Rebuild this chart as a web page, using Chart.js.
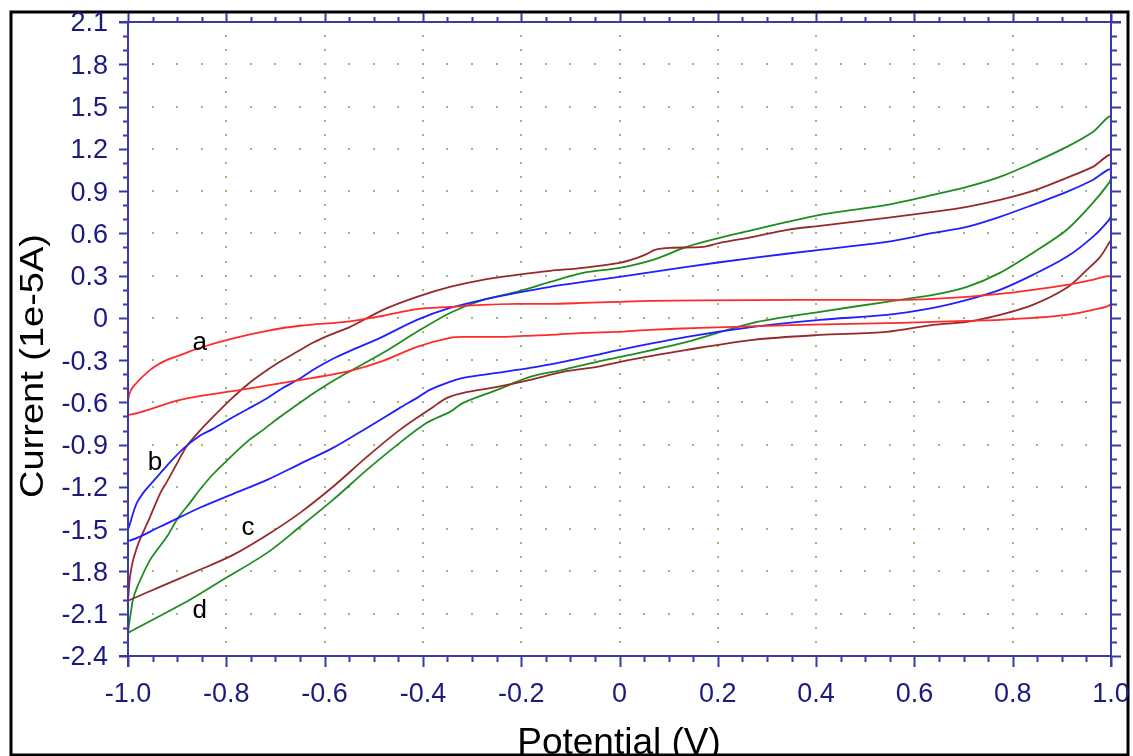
<!DOCTYPE html>
<html><head><meta charset="utf-8">
<script src="https://cdn.jsdelivr.net/npm/chart.js@4.4.1/dist/chart.umd.min.js"></script>
<style>html,body{margin:0;padding:0;background:#fff;}canvas{display:block;}</style>
</head><body>
<canvas id="c" width="1133" height="756"></canvas>
<script>
// ---- data (Potential in V, Current in 1e-5 A) ----
const aPot = [-1.000,-0.998,-0.990,-0.955,-0.921,-0.894,-0.854,-0.786,-0.717,-0.650,-0.548,-0.481,-0.412,-0.345,-0.278,-0.209,-0.141,-0.074,-0.005,0.062,0.164,0.367,0.571,0.638,0.707,0.774,0.841,0.910,0.963,1.000,
  1.000,0.963,0.910,0.841,0.774,0.707,0.638,0.571,0.367,0.164,0.062,-0.005,-0.074,-0.141,-0.196,-0.243,-0.310,-0.345,-0.412,-0.481,-0.548,-0.624,-0.758,-0.894,-1.000,-1.000];
const aCur = [-0.603,-0.550,-0.490,-0.369,-0.298,-0.265,-0.212,-0.145,-0.092,-0.056,-0.025,0.015,0.062,0.078,0.092,0.099,0.099,0.106,0.114,0.121,0.124,0.128,0.128,0.135,0.149,0.170,0.199,0.234,0.270,0.291,
  0.100,0.057,0.021,0.000,-0.014,-0.021,-0.028,-0.035,-0.050,-0.071,-0.085,-0.099,-0.106,-0.121,-0.128,-0.135,-0.135,-0.142,-0.206,-0.305,-0.376,-0.426,-0.504,-0.582,-0.688,-0.603];

const bPot = [-1.000,-0.996,-0.990,-0.982,-0.969,-0.955,-0.921,-0.888,-0.854,-0.827,-0.786,-0.758,-0.717,-0.691,-0.650,-0.624,-0.583,-0.548,-0.487,-0.412,-0.345,-0.278,-0.209,-0.141,-0.074,0.000,0.137,0.272,0.408,0.544,0.638,0.707,0.774,0.841,0.910,0.963,1.000,
  1.000,0.996,0.963,0.910,0.841,0.774,0.707,0.638,0.544,0.408,0.272,0.137,0.000,-0.046,-0.115,-0.182,-0.249,-0.318,-0.351,-0.386,-0.412,-0.447,-0.514,-0.583,-0.650,-0.717,-0.786,-0.854,-0.935,-1.000,-1.000];
const bCur = [-1.505,-1.462,-1.391,-1.313,-1.242,-1.185,-1.050,-0.930,-0.837,-0.788,-0.703,-0.650,-0.570,-0.510,-0.430,-0.370,-0.290,-0.234,-0.142,-0.014,0.071,0.128,0.177,0.220,0.255,0.291,0.362,0.426,0.483,0.539,0.603,0.646,0.717,0.802,0.894,0.979,1.050,
  0.731,0.696,0.575,0.433,0.305,0.199,0.128,0.071,0.021,-0.014,-0.064,-0.135,-0.227,-0.263,-0.312,-0.355,-0.390,-0.426,-0.461,-0.511,-0.568,-0.639,-0.781,-0.923,-1.036,-1.150,-1.249,-1.348,-1.483,-1.583,-1.505];

const cPot = [-1.000,-0.998,-0.996,-0.990,-0.982,-0.976,-0.955,-0.935,-0.921,-0.904,-0.880,-0.854,-0.827,-0.792,-0.758,-0.725,-0.691,-0.656,-0.624,-0.589,-0.548,-0.481,-0.412,-0.345,-0.278,-0.209,-0.141,-0.074,0.000,0.036,0.056,0.072,0.103,0.170,0.204,0.272,0.341,0.408,0.475,0.544,0.638,0.707,0.774,0.841,0.910,0.963,1.000,
  1.000,0.996,0.978,0.951,0.910,0.841,0.774,0.707,0.638,0.544,0.408,0.272,0.137,0.021,-0.046,-0.115,-0.182,-0.249,-0.318,-0.351,-0.379,-0.447,-0.514,-0.583,-0.650,-0.717,-0.786,-0.854,-0.935,-1.000];
const cCur = [-2.008,-1.916,-1.838,-1.725,-1.632,-1.576,-1.412,-1.249,-1.164,-1.057,-0.908,-0.802,-0.703,-0.582,-0.476,-0.390,-0.312,-0.241,-0.177,-0.121,-0.064,0.057,0.149,0.220,0.270,0.305,0.334,0.355,0.390,0.426,0.454,0.483,0.497,0.504,0.532,0.575,0.625,0.653,0.681,0.710,0.752,0.788,0.837,0.901,0.994,1.072,1.150,
  0.554,0.532,0.433,0.341,0.213,0.092,0.021,-0.028,-0.050,-0.099,-0.121,-0.156,-0.227,-0.298,-0.348,-0.383,-0.440,-0.490,-0.532,-0.568,-0.632,-0.795,-0.987,-1.199,-1.384,-1.541,-1.682,-1.788,-1.909,-2.008];

const dPot = [-1.000,-0.998,-0.994,-0.990,-0.982,-0.955,-0.921,-0.898,-0.874,-0.854,-0.827,-0.792,-0.758,-0.725,-0.691,-0.656,-0.624,-0.589,-0.554,-0.481,-0.412,-0.345,-0.278,-0.209,-0.141,-0.074,0.000,0.068,0.137,0.204,0.272,0.341,0.408,0.475,0.544,0.638,0.707,0.774,0.841,0.910,0.963,1.000,
  1.000,0.996,0.963,0.910,0.841,0.774,0.707,0.638,0.544,0.408,0.272,0.137,0.021,-0.046,-0.115,-0.182,-0.249,-0.318,-0.345,-0.392,-0.447,-0.514,-0.583,-0.650,-0.717,-0.807,-0.874,-1.000];
const dCur = [-2.236,-2.179,-2.087,-2.001,-1.916,-1.718,-1.554,-1.419,-1.313,-1.220,-1.110,-0.990,-0.880,-0.795,-0.703,-0.617,-0.539,-0.461,-0.390,-0.248,-0.099,0.035,0.128,0.185,0.255,0.319,0.355,0.412,0.504,0.568,0.625,0.681,0.731,0.766,0.802,0.873,0.930,1.001,1.100,1.214,1.320,1.427,
  0.994,0.958,0.816,0.625,0.461,0.319,0.220,0.163,0.114,0.043,-0.035,-0.170,-0.263,-0.312,-0.369,-0.419,-0.511,-0.603,-0.667,-0.745,-0.887,-1.079,-1.292,-1.483,-1.668,-1.859,-2.001,-2.236];

const curveNames = ['a','b','c','d'];
const curveColors = ['#ff2a2a','#1f1fff','#962a2a','#1f8c1f'];
const labelPot = [-0.854,-0.945,-0.756,-0.854];
const labelCur = [-0.227,-1.079,-1.540,-2.129];

const xTickValues = [-1.0,-0.8,-0.6,-0.4,-0.2,0,0.2,0.4,0.6,0.8,1.0];
const xTickLabels = ['-1.0','-0.8','-0.6','-0.4','-0.2','0','0.2','0.4','0.6','0.8','1.0'];
const yTickValues = [-2.4,-2.1,-1.8,-1.5,-1.2,-0.9,-0.6,-0.3,0,0.3,0.6,0.9,1.2,1.5,1.8,2.1];
const yTickLabels = ['-2.4','-2.1','-1.8','-1.5','-1.2','-0.9','-0.6','-0.3','0','0.3','0.6','0.9','1.2','1.5','1.8','2.1'];
const xMin = -1.0, xMax = 1.0, yMin = -2.4, yMax = 2.1;
const xMinorStep = 0.05, yMinorStep = 0.1;
const xTitle = 'Potential (V)';
const yTitle = 'Current (1e-5A)';

// ---- styling ----
const AXIS_COLOR = '#3b3ba8';
const LABEL_COLOR = '#1a1a80';
const DOT_COLOR = '#9cb872';
const FONT_FAMILY = '"Liberation Sans", Arial, sans-serif';

const series = [[aPot,aCur],[bPot,bCur],[cPot,cCur],[dPot,dCur]];
const datasets = series.map(([p,c],k) => ({
  label: curveNames[k],
  data: p.map((v,i) => ({x: v, y: c[i]})),
  showLine: true,
  borderColor: curveColors[k],
  backgroundColor: curveColors[k],
  borderWidth: 1.8,
  pointRadius: 0,
  tension: 0.3,
  clip: 2
}));

function minorValues(min, max, step) {
  const out = [];
  const n = Math.round((max - min) / step);
  for (let k = 0; k <= n; k++) out.push(+(min + k * step).toFixed(4));
  return out;
}

const decor = {
  id: 'decor',
  beforeDraw(chart) {
    const {ctx} = chart;
    ctx.save();
    ctx.strokeStyle = '#000';
    ctx.lineWidth = 3;
    ctx.strokeRect(11, 12, 1117, 743);
    ctx.restore();
  },
  beforeDatasetsDraw(chart) {
    const {ctx, scales: {x, y}} = chart;
    ctx.save();
    ctx.fillStyle = DOT_COLOR;
    const xm = minorValues(xMin, xMax, xMinorStep);
    const ym = minorValues(yMin, yMax, yMinorStep);
    yTickValues.forEach(v => {
      if (v <= yMin || v >= yMax) return;
      const py = Math.round(y.getPixelForValue(v));
      xm.forEach(xv => {
        if (xv <= xMin || xv >= xMax) return;
        const px = Math.round(x.getPixelForValue(xv));
        ctx.fillRect(px - 1, py - 1, 2, 2);
      });
    });
    xTickValues.forEach(v => {
      if (v <= xMin || v >= xMax) return;
      const px = Math.round(x.getPixelForValue(v));
      ym.forEach(yv => {
        if (yv <= yMin || yv >= yMax) return;
        const py = Math.round(y.getPixelForValue(yv));
        ctx.fillRect(px - 1, py - 1, 2, 2);
      });
    });
    ctx.restore();
  },
  afterDatasetsDraw(chart) {
    const {ctx, scales: {x, y}} = chart;
    const L = x.getPixelForValue(xMin), R = x.getPixelForValue(xMax);
    const T = y.getPixelForValue(yMax), B = y.getPixelForValue(yMin);
    ctx.save();
    ctx.strokeStyle = AXIS_COLOR;
    ctx.lineWidth = 2;
    ctx.beginPath();
    ctx.moveTo(L, T); ctx.lineTo(L, B + 11);
    ctx.moveTo(L - 9, B); ctx.lineTo(R, B);
    ctx.moveTo(L - 9, T); ctx.lineTo(R + 10, T);
    ctx.moveTo(R, T - 9); ctx.lineTo(R, B + 11);
    const isMajX = v => xTickValues.some(t => Math.abs(t - v) < 1e-6);
    minorValues(xMin, xMax, xMinorStep).forEach(v => {
      const px = Math.round(x.getPixelForValue(v)) + 0.5;
      const maj = isMajX(v);
      ctx.moveTo(px, B); ctx.lineTo(px, B + (maj ? 11 : 6));
      ctx.moveTo(px, T); ctx.lineTo(px, T - (maj ? 9 : 5));
    });
    const isMajY = v => yTickValues.some(t => Math.abs(t - v) < 1e-6);
    minorValues(yMin, yMax, yMinorStep).forEach(v => {
      const py = Math.round(y.getPixelForValue(v)) + 0.5;
      const maj = isMajY(v);
      ctx.moveTo(L, py); ctx.lineTo(L - (maj ? 9 : 5), py);
      ctx.moveTo(R, py); ctx.lineTo(R + (maj ? 10 : 6), py);
    });
    ctx.stroke();
    ctx.restore();
  },
  afterDraw(chart) {
    const {ctx, scales: {x, y}} = chart;
    ctx.save();
    ctx.fillStyle = '#000';
    ctx.font = '26px ' + FONT_FAMILY;
    ctx.textAlign = 'center';
    ctx.textBaseline = 'alphabetic';
    curveNames.forEach((n, i) => {
      ctx.fillText(n, x.getPixelForValue(labelPot[i]), y.getPixelForValue(labelCur[i]));
    });
    ctx.font = '37px ' + FONT_FAMILY;
    ctx.textAlign = 'center';
    ctx.textBaseline = 'alphabetic';
    ctx.fillText(xTitle, 619, 754);
    ctx.translate(34, 366);
    ctx.rotate(-Math.PI / 2);
    ctx.scale(1, 0.88);
    ctx.font = '38px ' + FONT_FAMILY;
    ctx.textBaseline = 'middle';
    ctx.fillText(yTitle, 0, 0);
    ctx.restore();
  }
};

const zeroPad = ax => { ax.paddingLeft = 0; ax.paddingRight = 0; ax.paddingTop = 0; ax.paddingBottom = 0; };

new Chart(document.getElementById('c'), {
  type: 'scatter',
  data: { datasets },
  options: {
    responsive: false,
    animation: false,
    devicePixelRatio: 1,
    layout: { padding: { left: 0, top: 22, right: 22, bottom: 0 } },
    plugins: { legend: { display: false }, tooltip: { enabled: false } },
    scales: {
      x: {
        type: 'linear', position: 'bottom', min: xMin, max: xMax,
        grid: { display: false, drawTicks: false, tickLength: 0 },
        border: { display: false },
        afterBuildTicks: ax => { ax.ticks = xTickValues.map(v => ({ value: v })); },
        afterFit: ax => { ax.height = 100; zeroPad(ax); },
        ticks: {
          autoSkip: false, maxRotation: 0, padding: 22,
          color: LABEL_COLOR, font: { family: FONT_FAMILY, size: 27 },
          callback: (v, i) => xTickLabels[i]
        }
      },
      y: {
        type: 'linear', position: 'left', min: yMin, max: yMax,
        grid: { display: false, drawTicks: false, tickLength: 0 },
        border: { display: false },
        afterBuildTicks: ax => { ax.ticks = yTickValues.map(v => ({ value: v })); },
        afterFit: ax => { ax.width = 128; zeroPad(ax); },
        ticks: {
          autoSkip: false, padding: 20, labelOffset: 2,
          color: LABEL_COLOR, font: { family: FONT_FAMILY, size: 27 },
          callback: (v, i) => yTickLabels[i]
        }
      }
    }
  },
  plugins: [decor]
});
</script>
</body></html>
